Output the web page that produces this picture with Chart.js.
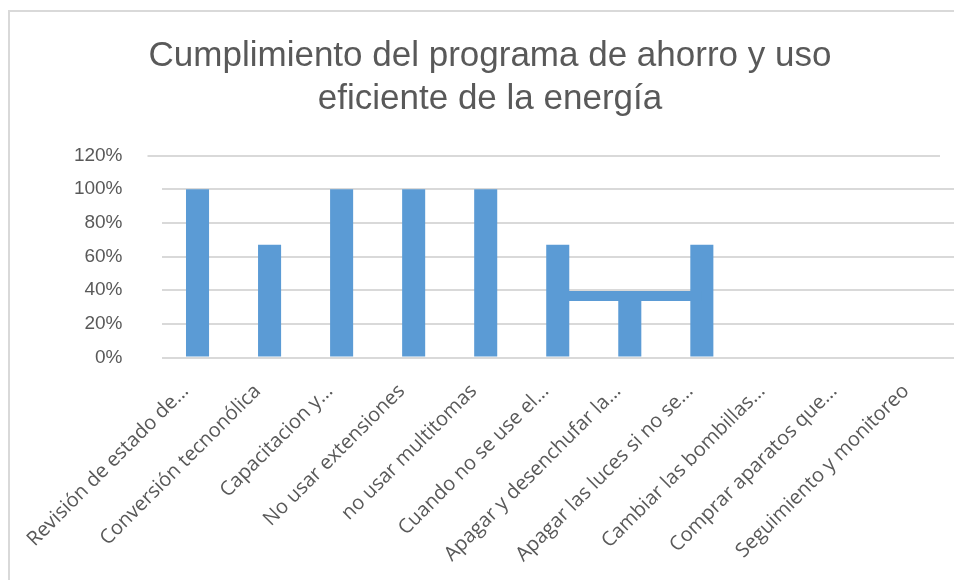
<!DOCTYPE html>
<html>
<head>
<meta charset="utf-8">
<script src="https://cdn.jsdelivr.net/npm/chart.js@4"></script>
<style>
  html, body { margin: 0; padding: 0; background: #ffffff; }
  #wrap { position: relative; width: 954px; height: 580px; overflow: hidden; }
  #frame { position: absolute; left: 8px; top: 10px; width: 960px; height: 600px;
           border-left: 2px solid #d9d9d9; border-top: 2px solid #d9d9d9; }
  #c { position: absolute; left: 0; top: 0; }
</style>
</head>
<body>
<div id="wrap">
  <div id="frame"></div>
  <canvas id="c" width="954" height="580"></canvas>
</div>
<script>
// ---- data ----
const titleLines = ["Cumplimiento del programa de ahorro y uso", "eficiente de la energía"];
const categories = [
  "Revisión de estado de...",
  "Conversión tecnonólica",
  "Capacitacion y...",
  "No usar extensiones",
  "no usar multitomas",
  "Cuando no se use el...",
  "Apagar y desenchufar la...",
  "Apagar las luces si no se...",
  "Cambiar las bombillas...",
  "Comprar aparatos que...",
  "Seguimiento y monitoreo"
];
const cumplimiento = [1.00, 0.67, 1.00, 1.00, 1.00, 0.67, 0.34, 0.67, 0, 0, 0];
// horizontal band visible in the picture between the 6th and 8th bars
const banda = [null, null, null, null, null, 0.366, 0.366, 0.366, null, null, null];
const yTicks = [0, 0.2, 0.4, 0.6, 0.8, 1.0, 1.2];

const blue = '#5b9bd5';
const gray = '#595959';
const gridGray = '#d9d9d9';

// the top (120%) gridline in the picture is shifted left of the others
const shiftedTopGrid = {
  id: 'shiftedTopGrid',
  beforeDatasetsDraw(chart) {
    const y = chart.scales.y;
    const area = chart.chartArea;
    const topVal = yTicks[yTicks.length - 1];
    const py = Math.round(y.getPixelForValue(topVal));
    const ctx = chart.ctx;
    ctx.save();
    ctx.strokeStyle = gridGray;
    ctx.lineWidth = 2;
    ctx.beginPath();
    ctx.moveTo(area.left - 14, py);
    ctx.lineTo(area.right - 14, py);
    ctx.stroke();
    ctx.restore();
  }
};

new Chart(document.getElementById('c'), {
  type: 'bar',
  data: {
    labels: categories,
    datasets: [
      {
        type: 'line',
        data: banda,
        borderColor: blue,
        backgroundColor: blue,
        borderWidth: 10,
        borderCapStyle: 'butt',
        pointRadius: 0,
        fill: false,
        spanGaps: false,
        order: 0
      },
      {
        type: 'bar',
        data: cumplimiento,
        backgroundColor: blue,
        borderWidth: 0,
        categoryPercentage: 1.0,
        barPercentage: 0.32,
        order: 1
      }
    ]
  },
  plugins: [shiftedTopGrid],
  options: {
    responsive: false,
    animation: false,
    layout: { padding: { left: 26, right: 0, top: 0, bottom: 0 } },
    plugins: {
      legend: { display: false },
      tooltip: { enabled: false },
      title: {
        display: true,
        text: titleLines,
        color: gray,
        font: { family: 'Liberation Sans, Arial, sans-serif', size: 35, weight: 'normal', lineHeight: 1.25 },
        padding: { top: 34, bottom: 34 }
      }
    },
    scales: {
      x: {
        grid: { display: false },
        border: { display: false },
        ticks: {
          autoSkip: false,
          maxRotation: 45,
          minRotation: 45,
          color: gray,
          padding: 14,
          labelOffset: -12,
          font: { family: 'Open Sans, Calibri, sans-serif', size: 20 }
        },
        afterFit: function (scale) {
          scale.height = 222.5;
          scale.paddingLeft = 0;
          scale.paddingRight = 0;
        }
      },
      y: {
        min: 0,
        max: 1.2,
        afterBuildTicks: function (scale) {
          scale.ticks = yTicks.map(v => ({ value: v }));
        },
        grid: {
          color: ctx => (ctx.tick && Math.abs(ctx.tick.value - yTicks[yTicks.length - 1]) < 1e-9) ? 'rgba(0,0,0,0)' : gridGray,
          lineWidth: 2,
          drawTicks: false
        },
        border: { display: false },
        ticks: {
          color: gray,
          padding: 39,
          font: { family: 'Liberation Sans, Arial, sans-serif', size: 19 },
          callback: v => Math.round(v * 100) + '%'
        },
        afterFit: function (scale) {
          scale.width = 135.5;
        }
      }
    }
  }
});
</script>
</body>
</html>
